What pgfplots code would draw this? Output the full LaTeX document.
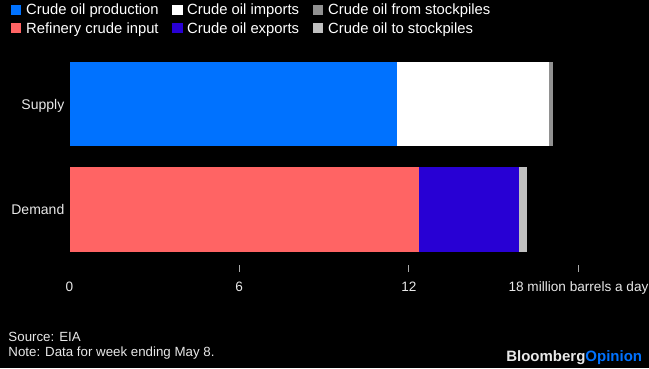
\documentclass[border=0pt]{standalone}
\usepackage{fontspec}
\setmainfont{Liberation Sans}
\usepackage{pgfplots}
\pgfplotsset{compat=1.18}
\definecolor{prod}{RGB}{0,114,255}
\definecolor{refin}{RGB}{255,100,100}
\definecolor{expo}{RGB}{40,0,212}
\definecolor{fromst}{RGB}{145,145,145}
\definecolor{tost}{RGB}{192,192,192}
\definecolor{lbl}{RGB}{232,232,232}
\definecolor{tickc}{RGB}{170,170,170}
\begin{document}
\begin{tikzpicture}[x=1pt,y=1pt]
\useasboundingbox (0,0) rectangle (649,368);
\fill[black] (0,0) rectangle (649,368);
\begin{axis}[
  at={(69.5pt,105.75pt)}, anchor=south west,
  scale only axis, width=509pt, height=211pt,
  xmin=0, xmax=18, ymin=-0.5, ymax=1.5,
  xbar stacked, bar width=84.5pt,
  axis line style={draw=none},
  xtick={6,12,18},
  xticklabels={6,12,18 million barrels a day},
  extra x ticks={0}, extra x tick labels={0},
  extra x tick style={major tick length=0pt, xtick style={draw=none}},
  ytick={0,1}, yticklabels={Demand,Supply},
  xtick pos=lower,
  tick align=inside,
  major tick length=7pt,
  xtick style={draw=tickc, line width=0.8pt, yshift=-9.75pt},
  ytick style={draw=none},
  xticklabel style={anchor=base, inner sep=0pt, text=lbl, font=\fontsize{13.6pt}{15pt}\selectfont},
  xticklabel shift=28.75pt,
  yticklabel style={anchor=base east, inner sep=0pt, text=lbl, xshift=-5pt, yshift=-5pt, font=\fontsize{14pt}{16pt}\selectfont},
  clip=false,
]
\addplot[fill=prod, draw=none] coordinates {(11.58,1) (0,0)};
\addplot[fill=white, draw=none] coordinates {(5.39,1) (0,0)};
\addplot[fill=fromst, draw=none] coordinates {(0.13,1) (0,0)};
\addplot[fill=refin, draw=none] coordinates {(0,1) (12.37,0)};
\addplot[fill=expo, draw=none] coordinates {(0,1) (3.53,0)};
\addplot[fill=tost, draw=none] coordinates {(0,1) (0.28,0)};
\end{axis}
% legend
\begin{scope}[every node/.style={anchor=base west, inner sep=0pt, text=white, font=\fontsize{14.8pt}{16pt}\selectfont}]
\fill[prod] (11,353) rectangle (21.3,363);
\node at (26,353) {Crude oil production};
\fill[white] (172.3,353) rectangle (182.6,363);
\node at (187,353) {Crude oil imports};
\fill[fromst] (312.7,353) rectangle (323,363);
\node at (328,353) {Crude oil from stockpiles};
\fill[refin] (11,334.7) rectangle (21.3,344.7);
\node at (26,334.7) {Refinery crude input};
\fill[expo] (172.3,334.7) rectangle (182.6,344.7);
\node at (187,334.7) {Crude oil exports};
\fill[tost] (312.7,334.7) rectangle (323,344.7);
\node at (328,334.7) {Crude oil to stockpiles};
\end{scope}
% footer
\node[anchor=base west, inner sep=0pt, text=lbl, font=\fontsize{13.3pt}{15pt}\selectfont] at (8.3,26.3) {Source: EIA};
\node[anchor=base west, inner sep=0pt, text=lbl, font=\fontsize{13.3pt}{15pt}\selectfont] at (8.3,11.3) {Note: Data for week ending May 8.};
\node[anchor=base east, inner sep=0pt, font=\bfseries\fontsize{15pt}{16pt}\selectfont] at (642.3,6.3) {\textcolor{lbl}{Bloomberg}\textcolor{prod}{Opinion}};
\end{tikzpicture}
\end{document}
